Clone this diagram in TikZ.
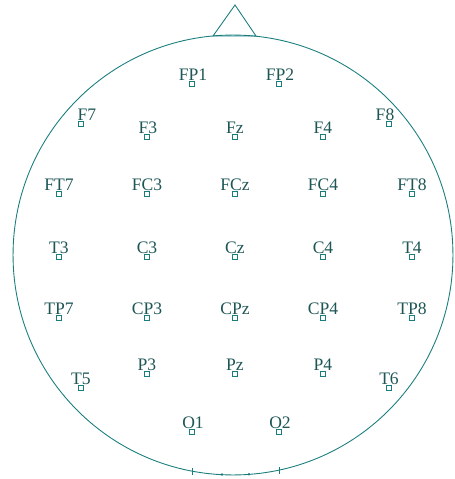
\documentclass[tikz,border=0pt]{standalone}
\usepackage{fontspec}
\setmainfont{Liberation Serif}
\usetikzlibrary{positioning}
\definecolor{headteal}{RGB}{25,125,125}
\definecolor{labelteal}{RGB}{30,85,85}

\tikzset{
  electrode/.style={draw=headteal,line width=.4pt,inner sep=0pt,
    minimum size=.09cm},
  eeglabel/.style={text=labelteal,inner sep=0pt,font=\fontsize{10}{12}\selectfont}
}

\begin{document}
\begin{tikzpicture}[x=.02cm,y=-.02cm]
  \useasboundingbox (0,0) rectangle (454,479);
  % head and nose
  \draw[headteal,line width=.5pt] (233,255) circle [radius=4.4cm];
  \draw[headteal,line width=.5pt] (213,36)--(235,5)--(256,36)--cycle;
  % marks at the back of the head
  \draw[headteal,line width=.4pt] (192,468)--(192,475);
  \draw[headteal,line width=.4pt] (279,467)--(279,474);
  \fill[headteal] (222,474.5) circle (.8pt);
  \fill[headteal] (249,474.2) circle (.8pt);
  % electrodes, 10-20 system
  \foreach \name/\x/\y/\dx in {
      FP1/192/84/1, FP2/279/84/1,
      F7/81/124/6, F3/147/137/1, Fz/235/137/0, F4/323/137/0, F8/389/124/-4,
      FT7/59/194/0, FC3/147/194/0, FCz/235/194/0, FC4/323/194/0, FT8/412/194/0,
      T3/59/257/0, C3/147/257/0, Cz/235/257/0, C4/323/257/0, T4/412/257/0,
      TP7/59/318/0, CP3/147/318/0, CPz/235/318/0, CP4/323/318/0, TP8/412/318/0,
      T5/81/388/0, P3/147/374/0, Pz/235/374/0, P4/323/374/0, T6/389/388/0,
      O1/192/432/1, O2/279/432/1}{
    \node[electrode,
      label={[eeglabel,xshift=\dx*.02cm,label distance=.3pt]90:\name}]
      (\name) at (\x,\y) {};
  }
\end{tikzpicture}
\end{document}
